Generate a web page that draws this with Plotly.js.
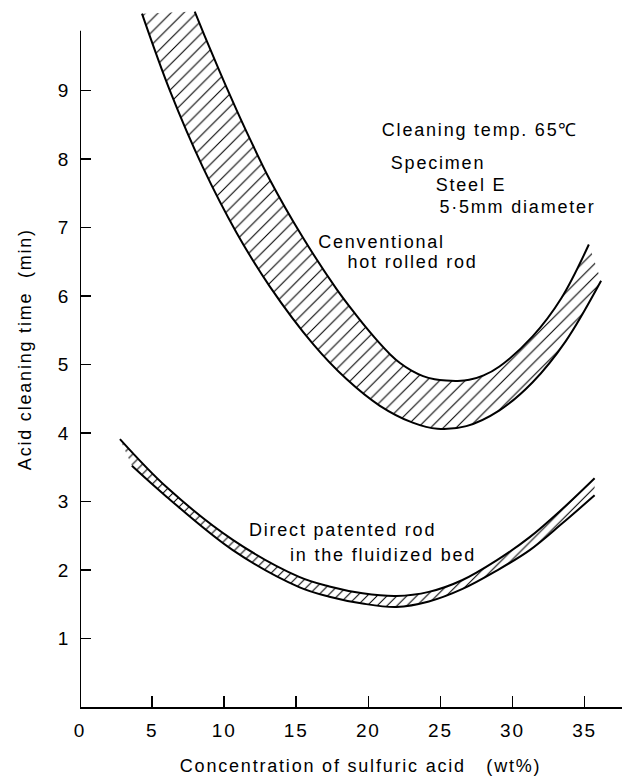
<!DOCTYPE html>
<html>
<head>
<meta charset="utf-8">
<script src="https://cdn.plot.ly/plotly-3.0.1.min.js"></script>
<style>
html,body{margin:0;padding:0;background:#fff;}
#chart text{letter-spacing:1.8px;}
</style>
</head>
<body>
<div id="chart" style="width:628px;height:778px;"></div>
<script>
// Conventional hot rolled rod band (upper band)
const convUpperX = [7.96, 8.66, 9.7, 10.85, 11.77, 13.16, 15.44, 17.8, 19.16, 20.0, 20.78, 21.5, 22.2, 23.0, 23.8, 24.6, 25.4, 26.2, 27.0, 28.0, 29.1, 31.4, 33.4, 35.3];
const convUpperY = [10.15, 9.79, 9.27, 8.72, 8.30, 7.70, 6.86, 6.10, 5.72, 5.50, 5.31, 5.15, 5.02, 4.91, 4.83, 4.785, 4.765, 4.76, 4.775, 4.84, 4.97, 5.41, 5.97, 6.75];
const convLowerX = [4.3, 6.23, 8.52, 10.87, 13.16, 16.16, 18.47, 20.78, 23.08, 24.8, 26.8, 29.1, 31.4, 33.7, 36.15];
const convLowerY = [10.12, 9.00, 7.88, 6.92, 6.14, 5.30, 4.79, 4.40, 4.15, 4.06, 4.10, 4.33, 4.74, 5.34, 6.22];

// Direct patented rod in the fluidized bed (lower band)
const patUpperX = [2.77, 6.0, 10.6, 15.2, 17.3, 19.6, 21.95, 24.2, 26.5, 28.9, 31.2, 33.4, 35.7];
const patUpperY = [3.91, 3.21, 2.44, 1.90, 1.76, 1.66, 1.62, 1.68, 1.85, 2.14, 2.48, 2.88, 3.34];
const patLowerX = [3.6, 6.0, 10.6, 15.2, 17.3, 19.6, 21.95, 24.2, 26.5, 28.9, 31.2, 33.4, 35.7];
const patLowerY = [3.52, 3.07, 2.29, 1.75, 1.61, 1.51, 1.46, 1.54, 1.72, 1.99, 2.29, 2.67, 3.09];

const xTicks = [0, 5, 10, 15, 20, 25, 30, 35];
const yTicks = [1, 2, 3, 4, 5, 6, 7, 8, 9];

const xTitle = "Concentration of sulfuric acid\u00a0\u00a0\u00a0(wt%)";
const yTitle = "Acid cleaning time\u00a0\u00a0(min)";

const noteTexts = ["Cleaning temp. 65\u2103", "Specimen", "Steel E", "5\u00b75mm diameter",
                   "Cenventional", "hot rolled rod", "Direct patented rod", "in the fluidized bed"];
const noteX = [27.74, 24.86, 27.12, 30.37, 20.91, 23.06, 18.2, 21.05];
const noteY = [8.42, 7.94, 7.62, 7.30, 6.79, 6.50, 2.58, 2.22];

const FONT = "Liberation Sans, Arial, sans-serif";
const lineStyle = {color: "black", width: 2, shape: "spline", smoothing: 1};

const traces = [
  {x: convLowerX, y: convLowerY, mode: "lines", line: lineStyle, hoverinfo: "skip", showlegend: false},
  {x: convUpperX, y: convUpperY, mode: "lines", line: lineStyle, hoverinfo: "skip", showlegend: false,
   fill: "tonexty", fillcolor: "white",
   fillpattern: {shape: "/", fgcolor: "black", bgcolor: "white", size: 9, solidity: 0.12}},
  {x: patLowerX, y: patLowerY, mode: "lines", line: lineStyle, hoverinfo: "skip", showlegend: false},
  {x: patUpperX, y: patUpperY, mode: "lines", line: lineStyle, hoverinfo: "skip", showlegend: false,
   fill: "tonexty", fillcolor: "white",
   fillpattern: {shape: "/", fgcolor: "black", bgcolor: "white", size: 7, solidity: 0.15}}
];

const annotations = noteTexts.map((t, i) => ({
  text: t, x: noteX[i], y: noteY[i], xref: "x", yref: "y",
  xanchor: "center", yanchor: "middle", showarrow: false,
  font: {family: FONT, size: 18, color: "black"}
}));
annotations.push({
  text: xTitle, x: 19.49, y: -0.0837, xref: "x", yref: "paper",
  xanchor: "center", yanchor: "middle", showarrow: false,
  font: {family: FONT, size: 18, color: "black"}
});
annotations.push({
  text: yTitle, x: -0.1015, y: 5.23, xref: "paper", yref: "y",
  xanchor: "center", yanchor: "middle", showarrow: false, textangle: -90,
  font: {family: FONT, size: 18, color: "black"}
});

const layout = {
  width: 628, height: 778,
  margin: {l: 80, r: 6, t: 2, b: 71, pad: 0},
  paper_bgcolor: "white", plot_bgcolor: "white",
  showlegend: false,
  xaxis: {
    range: [0, 37.6], showgrid: false, zeroline: false,
    showline: true, linecolor: "black", linewidth: 2,
    tickmode: "array", tickvals: xTicks,
    ticks: "inside", ticklen: 11, tickwidth: 1.5, tickcolor: "black",
    ticklabelstandoff: 5,
    tickfont: {family: FONT, size: 19, color: "black"}
  },
  yaxis: {
    range: [0, 10.29], showgrid: false, zeroline: false,
    showline: false,
    tickmode: "array", tickvals: yTicks,
    ticks: "inside", ticklen: 11, tickwidth: 1.5, tickcolor: "black",
    ticklabelstandoff: 9,
    tickfont: {family: FONT, size: 19, color: "black"}
  },
  shapes: [
    {type: "line", xref: "x", yref: "y", x0: 0, x1: 0, y0: 0, y1: 9.87,
     line: {color: "black", width: 2}}
  ],
  annotations: annotations
};

Plotly.newPlot("chart", traces, layout, {staticPlot: true, displayModeBar: false});
</script>
</body>
</html>
